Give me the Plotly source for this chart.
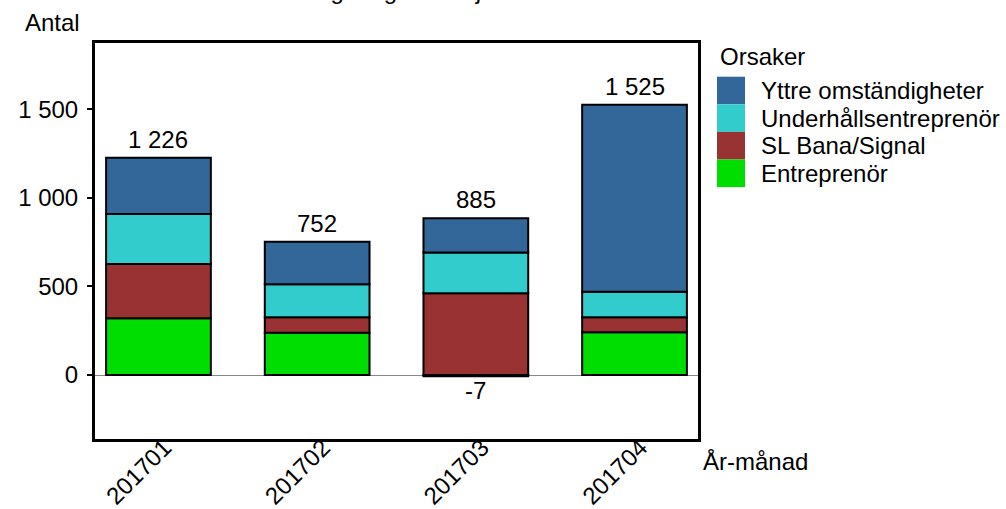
import plotly.graph_objects as go

# ---- data ----
months = ["201701", "201702", "201703", "201704"]
entreprenor = [320, 239, -7, 241]
sl_bana_signal = [306, 87, 461, 85]
underhall = [283, 186, 231, 144]
yttre = [317, 240, 193, 1055]

series_names = ["Entreprenör", "SL Bana/Signal", "Underhållsentreprenör", "Yttre omständigheter"]
series_values = [entreprenor, sl_bana_signal, underhall, yttre]
series_colors = ["#00DD00", "#993333", "#33CCCC", "#336699"]

y_tickvals = [0, 500, 1000, 1500]
y_ticktext = ["0", "500", "1 000", "1 500"]

title_text = "Ändring i regularitet jämfört med 2016"
y_title = "Antal"
x_title = "År-månad"
legend_title = "Orsaker"

FONT = "Liberation Sans, Arial, sans-serif"
FS = 24

# plot area in pixels
L, R, T, B = 95, 698, 43, 439
W, H = 1006, 509


def X(px):
    return (px - L) / (R - L)


def Y(py):
    return (B - py) / (B - T)


fig = go.Figure()
for name, vals, col in zip(series_names, series_values, series_colors):
    fig.add_trace(go.Bar(
        x=months, y=vals, name=name, width=0.66,
        marker=dict(color=col, line=dict(color="black", width=2)),
        showlegend=False,
    ))

pos_tot = [sum(v for v in col if v > 0) for col in zip(*series_values)]
neg_tot = [sum(v for v in col if v < 0) for col in zip(*series_values)]


def fmt(v):
    return f"{v:,}".replace(",", " ")


shapes = []
annotations = []
for i, v in enumerate(pos_tot):
    annotations.append(dict(xref="x", yref="y", x=i, y=v, text=fmt(v), showarrow=False,
                            xanchor="center", yanchor="bottom", yshift=3,
                            font=dict(family=FONT, size=FS, color="black")))
for i, v in enumerate(neg_tot):
    if v < 0:
        annotations.append(dict(xref="x", yref="y", x=i, y=v, text=fmt(v), showarrow=False,
                                xanchor="center", yanchor="top", yshift=1,
                                font=dict(family=FONT, size=FS, color="black")))

# custom legend (large swatches)
row_top = 76.7
row_h = 27.6
for i, idx in enumerate([3, 2, 1, 0]):
    y0 = row_top + i * row_h
    shapes.append(dict(type="rect", xref="paper", yref="paper",
                       x0=X(717), x1=X(745), y0=Y(y0 + row_h), y1=Y(y0),
                       fillcolor=series_colors[idx], line=dict(width=0)))
    annotations.append(dict(xref="paper", yref="paper", x=X(759), y=Y(y0 + row_h / 2),
                            xanchor="left", yanchor="middle", showarrow=False,
                            text=series_names[idx], font=dict(family=FONT, size=FS, color="black")))
annotations.append(dict(xref="paper", yref="paper", x=X(718), y=Y(56.7),
                        xanchor="left", yanchor="middle", showarrow=False,
                        text=legend_title, font=dict(family=FONT, size=FS, color="black")))
annotations.append(dict(xref="paper", yref="paper", x=X(23), y=Y(23),
                        xanchor="left", yanchor="middle", showarrow=False,
                        text=y_title, font=dict(family=FONT, size=FS, color="black")))
annotations.append(dict(xref="paper", yref="paper", x=X(701), y=Y(461),
                        xanchor="left", yanchor="middle", showarrow=False,
                        text=x_title, font=dict(family=FONT, size=FS, color="black")))
annotations.append(dict(xref="paper", yref="paper", x=X(259), y=Y(6),
                        xanchor="left", yanchor="bottom", showarrow=False,
                        text=title_text, font=dict(family=FONT, size=24, color="black")))

fig.update_layout(
    width=W, height=H,
    margin=dict(l=L, r=W - R, t=T, b=H - B, pad=0, autoexpand=False),
    barmode="relative",
    plot_bgcolor="white", paper_bgcolor="white",
    font=dict(family=FONT, size=FS, color="black"),
    shapes=shapes, annotations=annotations,
    showlegend=False,
)
fig.update_xaxes(
    range=[-0.4, 3.4], type="category", tickangle=-45, automargin=False,
    showline=True, mirror=True, linecolor="black", linewidth=3,
    showgrid=False, ticks="", tickfont=dict(family=FONT, size=FS, color="black"),
    ticklabelstandoff=-18, ticklabelshift=6,
)
fig.update_yaxes(
    range=[-361, 1874], tickvals=y_tickvals, ticktext=y_ticktext, automargin=False,
    showline=True, mirror=True, linecolor="black", linewidth=3,
    showgrid=False, ticks="outside", ticklen=5, tickwidth=2, tickcolor="black",
    zeroline=True, zerolinecolor="#888888", zerolinewidth=1,
    tickfont=dict(family=FONT, size=FS, color="black"),
    ticklabelstandoff=4,
)

fig.write_html(
    "out.html",
    config={"displayModeBar": False},
    post_script="document.body.style.margin='0';document.body.style.padding='0';",
)
